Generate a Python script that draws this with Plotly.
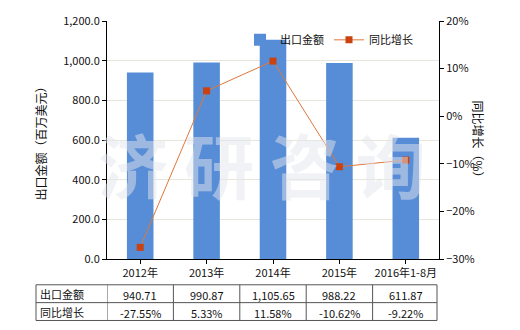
import plotly.graph_objects as go

categories = ["2012年", "2013年", "2014年", "2015年", "2016年1-8月"]
export_values = [940.71, 990.87, 1105.65, 988.22, 611.87]
growth_pct = [-27.55, 5.33, 11.58, -10.62, -9.22]
export_labels = ["940.71", "990.87", "1,105.65", "988.22", "611.87"]
growth_labels = ["-27.55%", "5.33%", "11.58%", "-10.62%", "-9.22%"]
row_names = ["出口金额", "同比增长"]

FONT = "Noto Sans CJK SC, DejaVu Sans, sans-serif"
W, H = 520, 330
L, R, T, B = 107, 81, 19, 71
pw, ph = W - L - R, H - T - B

def py(ypix):
    return (H - B - ypix) / ph

def px(xpix):
    return (xpix - L) / pw

fig = go.Figure()
fig.add_trace(go.Bar(
    x=list(range(len(categories))), y=export_values, name="出口金额",
    marker=dict(color="#578DD6", line=dict(width=0)), width=0.4,
))
fig.add_trace(go.Scatter(
    x=list(range(len(categories))), y=growth_pct, name="同比增长", yaxis="y2",
    mode="lines+markers", line=dict(color="#E0773A", width=1),
    marker=dict(symbol="square", size=7, color="#C9420F"),
))

shapes = []
annotations = []
# watermark
annotations.append(dict(xref="paper", yref="paper", x=px(262), y=py(163), text="<b>济 研 咨 询</b>",
                        showarrow=False, font=dict(size=70, color="rgba(228,230,236,0.5)", family=FONT)))
# table
row_y = [py(285), py(303), py(321)]
left_x = px(36)
for yy in row_y:
    shapes.append(dict(type="line", xref="paper", yref="paper", x0=left_x, x1=px(437),
                       y0=yy, y1=yy, line=dict(color="#555555", width=1)))
shapes.append(dict(type="line", xref="paper", yref="paper", x0=left_x, x1=left_x,
                   y0=row_y[0], y1=row_y[2], line=dict(color="#555555", width=1)))
for i in range(len(categories) + 1):
    xv = i - 0.5
    if i == len(categories):
        xv = i - 0.53
    shapes.append(dict(type="line", xref="x", yref="paper", x0=xv, x1=xv,
                       y0=row_y[0], y1=row_y[2], line=dict(color="#555555", width=1)))
for r, name in enumerate(row_names):
    annotations.append(dict(xref="paper", yref="paper", x=px(38), y=(row_y[r] + row_y[r + 1]) / 2,
                            text=name, showarrow=False, xanchor="left", yanchor="middle",
                            font=dict(size=11, color="#111", family=FONT)))
for i in range(len(categories)):
    for r, labels in enumerate([export_labels, growth_labels]):
        annotations.append(dict(xref="x", yref="paper", x=i, y=(row_y[r] + row_y[r + 1]) / 2 - 0.004,
                                text=labels[i], showarrow=False, xanchor="center", yanchor="middle",
                                font=dict(size=11, color="#111", family=FONT)))
# axis titles
annotations.append(dict(xref="paper", yref="paper", x=px(30), y=py(140), text="出口金额（百万美元）",
                        textangle=-90, showarrow=False, font=dict(size=12, color="#111", family=FONT)))
annotations.append(dict(xref="paper", yref="paper", x=px(489), y=py(141), text="同比增长（%）",
                        textangle=90, showarrow=False, font=dict(size=12, color="#111", family=FONT)))

fig.update_layout(
    width=W, height=H, margin=dict(l=L, r=R, t=T, b=B, pad=0),
    paper_bgcolor="white", plot_bgcolor="white",
    font=dict(family=FONT, size=11, color="#111"),
    bargap=0.6, showlegend=True,
    legend=dict(orientation="h", x=px(240), y=py(38), xanchor="left", yanchor="middle",
                bgcolor="rgba(0,0,0,0)", font=dict(size=11, family=FONT, color="#111"),
                itemwidth=30, tracegroupgap=0),
    xaxis=dict(range=[-0.5, 4.5], tickmode="array", tickvals=list(range(len(categories))),
               ticktext=categories, showline=True, linecolor="black", linewidth=1,
               ticks="outside", ticklen=4, tickcolor="black", showgrid=False, zeroline=False,
               tickfont=dict(size=11)),
    yaxis=dict(range=[0, 1200], dtick=200, tickformat=",.1f", showline=True, linecolor="black",
               linewidth=1, ticks="outside", ticklen=4, tickcolor="black", showgrid=True,
               gridcolor="#E8E6DA", gridwidth=1, zeroline=False, tickfont=dict(size=11)),
    yaxis2=dict(range=[-30, 20], dtick=10, ticksuffix="%", overlaying="y", side="right",
                showline=True, linecolor="black", linewidth=1, ticks="outside", ticklen=4,
                tickcolor="black", showgrid=False, zeroline=False, tickfont=dict(size=11)),
    shapes=shapes, annotations=annotations,
)
fig.write_html("out.html")
